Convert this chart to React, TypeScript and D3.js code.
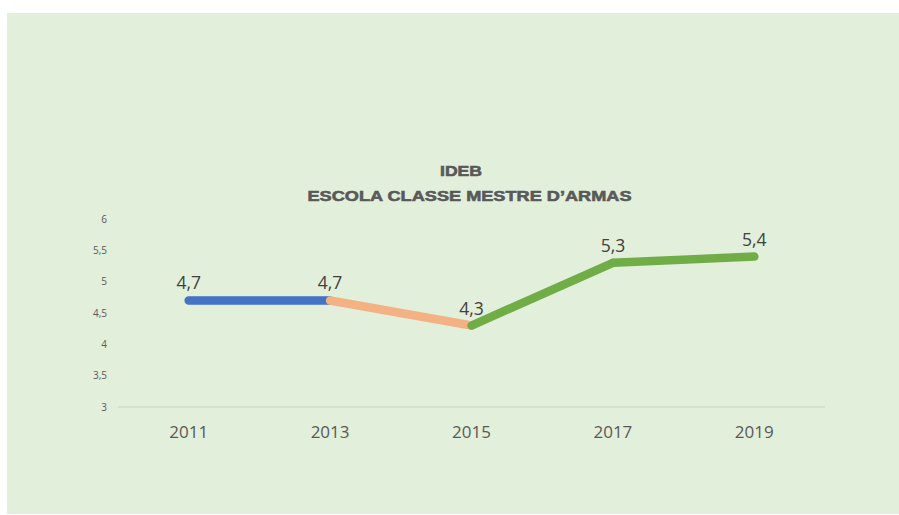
import React from "react";
import * as d3 from "d3";

const years = ["2011", "2013", "2015", "2017", "2019"];
const values = [4.7, 4.7, 4.3, 5.3, 5.4];
const yTicks = [3, 3.5, 4, 4.5, 5, 5.5, 6];
const segmentColors = ["#4472C4", "#F4B183", "#70AD47", "#70AD47"];
const titleLines = ["IDEB", "ESCOLA CLASSE MESTRE D\u2019ARMAS"];

const fmt = (v: number) => String(v).replace(".", ",");

export default function App() {
  const W = 899, H = 515;
  const x = d3.scaleBand<string>().domain(years).range([118, 825]);
  const y = d3.scaleLinear().domain([3, 6]).range([407, 219]);
  const cx = (yr: string) => (x(yr) as number) + x.bandwidth() / 2;
  const line = d3.line<[number, number]>().x((d) => d[0]).y((d) => d[1]);
  const pts: [number, number][] = years.map((yr, i) => [cx(yr), y(values[i])]);

  return (
    <svg width={W} height={H} style={{ position: "absolute", left: 0, top: 0 }}>
      <rect x={7} y={13} width={W - 7} height={514 - 13} fill="#E2EFDA" />
      <text x={461} y={175.5} textAnchor="middle" fontFamily="Liberation Sans, Arial, sans-serif"
        fontWeight="bold" fontSize={15.5} fill="#595959" stroke="#595959" strokeWidth={0.6}
        textLength={42} lengthAdjust="spacingAndGlyphs">
        {titleLines[0]}
      </text>
      <text x={469.5} y={201} textAnchor="middle" fontFamily="Liberation Sans, Arial, sans-serif"
        fontWeight="bold" fontSize={15.5} fill="#595959" stroke="#595959" strokeWidth={0.6}
        textLength={324} lengthAdjust="spacingAndGlyphs">
        {titleLines[1]}
      </text>
      {yTicks.map((t) => (
        <text key={t} x={107} y={y(t)} dy="0.35em" textAnchor="end" fontFamily="Open Sans, sans-serif"
          fontSize={10} fill="#595959">
          {fmt(t)}
        </text>
      ))}
      <line x1={118} x2={825} y1={y(3)} y2={y(3)} stroke="#C9D6C3" strokeWidth={1} />
      {years.map((yr) => (
        <text key={yr} x={cx(yr)} y={438} textAnchor="middle" fontFamily="Open Sans, sans-serif"
          fontSize={17} fill="#595959">
          {yr}
        </text>
      ))}
      {pts.slice(0, -1).map((p, i) => (
        <path key={i} d={line([p, pts[i + 1]]) as string} stroke={segmentColors[i]} strokeWidth={8.5}
          strokeLinecap="round" fill="none" />
      ))}
      {pts.map((p, i) => (
        <text key={i} x={p[0]} y={p[1] - 11} textAnchor="middle" fontFamily="Open Sans, sans-serif"
          fontSize={17.5} fill="#404040">
          {fmt(values[i])}
        </text>
      ))}
    </svg>
  );
}
